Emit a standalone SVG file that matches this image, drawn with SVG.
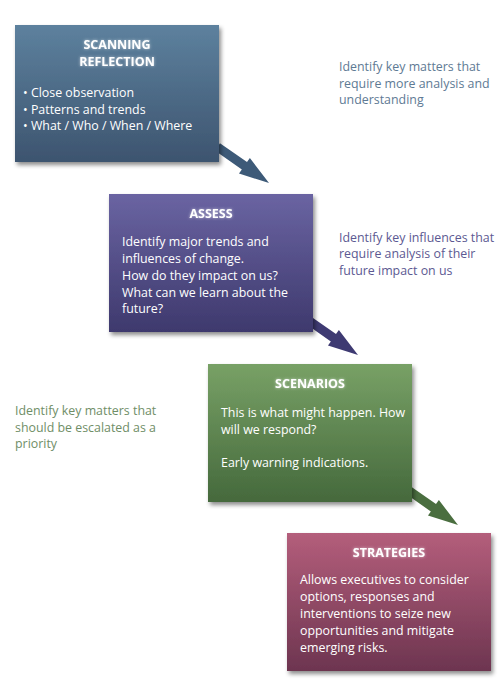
<svg xmlns="http://www.w3.org/2000/svg" width="500" height="696" viewBox="0 0 500 696">
<defs>
<linearGradient id="g1" x1="0" y1="0" x2="0" y2="1"><stop offset="0" stop-color="#5d819e"/><stop offset="1" stop-color="#3d546f"/></linearGradient>
<linearGradient id="g2" x1="0" y1="0" x2="0" y2="1"><stop offset="0" stop-color="#6a64a2"/><stop offset="1" stop-color="#3e396d"/></linearGradient>
<linearGradient id="g3" x1="0" y1="0" x2="0" y2="1"><stop offset="0" stop-color="#78a166"/><stop offset="1" stop-color="#45693c"/></linearGradient>
<linearGradient id="g4" x1="0" y1="0" x2="0" y2="1"><stop offset="0" stop-color="#b45e7b"/><stop offset="1" stop-color="#6d3550"/></linearGradient>
<filter id="sh" x="-10%" y="-10%" width="125%" height="125%"><feDropShadow dx="2" dy="3" stdDeviation="2" flood-color="#000" flood-opacity="0.45"/></filter>
<filter id="glow" x="-10%" y="-30%" width="120%" height="160%"><feGaussianBlur in="SourceAlpha" stdDeviation="1.5" result="b"/><feFlood flood-color="#fff" flood-opacity="0.6"/><feComposite in2="b" operator="in" result="g"/><feMerge><feMergeNode in="g"/><feMergeNode in="SourceGraphic"/></feMerge></filter>
</defs>
<style>
text{font-family:"Open Sans","Liberation Sans",sans-serif;font-size:12.4px}
.t{font-weight:bold;fill:#fff;text-anchor:middle;font-size:12.5px}
.b{fill:#fff}
.s1{fill:#5e7a94}.s2{fill:#5c5992}.s3{fill:#6f8e67}
</style>
<g id="connectors">
<path fill="#3d5a78" transform="translate(269,183) rotate(35)" d="M-63,-4.5 L-30,-4.5 L-30,-9.5 L0,0 L-30,9.5 L-30,4.5 L-63,4.5 Z"/>
<path fill="#3e3a72" transform="translate(358,355) rotate(35)" d="M-62,-4.5 L-30,-4.5 L-30,-9.5 L0,0 L-30,9.5 L-30,4.5 L-62,4.5 Z"/>
<path fill="#4a6e3f" transform="translate(458,525) rotate(35)" d="M-62,-4.5 L-30,-4.5 L-30,-9.5 L0,0 L-30,9.5 L-30,4.5 L-62,4.5 Z"/>
</g>
<g id="scanning">
<rect x="15" y="25" width="204" height="137" fill="url(#g1)" filter="url(#sh)"/>
<g filter="url(#glow)"><text class="t" x="117" y="49">SCANNING</text><text class="t" x="117" y="66">REFLECTION</text></g>
<text class="b" x="23" y="97">• Close observation</text>
<text class="b" x="23" y="114">• Patterns and trends</text>
<text class="b" x="23" y="130">• What / Who / When / Where</text>
</g>
<g id="assess">
<rect x="109" y="194" width="204" height="138" fill="url(#g2)" filter="url(#sh)"/>
<text class="t" x="211" y="218" filter="url(#glow)">ASSESS</text>
<text class="b" x="122" y="246">Identify major trends and</text>
<text class="b" x="122" y="263">influences of change.</text>
<text class="b" x="122" y="280">How do they impact on us?</text>
<text class="b" x="122" y="297">What can we learn about the</text>
<text class="b" x="122" y="313">future?</text>
</g>
<g id="scenarios">
<rect x="208" y="364" width="204" height="138" fill="url(#g3)" filter="url(#sh)"/>
<text class="t" x="310" y="388" filter="url(#glow)">SCENARIOS</text>
<text class="b" x="221" y="417">This is what might happen. How</text>
<text class="b" x="221" y="434">will we respond?</text>
<text class="b" x="221" y="467">Early warning indications.</text>
</g>
<g id="strategies">
<rect x="287" y="533" width="204" height="138" fill="url(#g4)" filter="url(#sh)"/>
<text class="t" x="389" y="557" filter="url(#glow)">STRATEGIES</text>
<text class="b" x="300" y="584">Allows executives to consider</text>
<text class="b" x="300" y="601">options, responses and</text>
<text class="b" x="300" y="618">interventions to seize new</text>
<text class="b" x="300" y="635">opportunities and mitigate</text>
<text class="b" x="300" y="652">emerging risks.</text>
</g>
<g id="note1">
<text class="s1" x="339" y="71">Identify key matters that</text>
<text class="s1" x="339" y="88">require more analysis and</text>
<text class="s1" x="339" y="104">understanding</text>
</g>
<g id="note2">
<text class="s2" x="339" y="242">Identify key influences that</text>
<text class="s2" x="339" y="258">require analysis of their</text>
<text class="s2" x="339" y="275">future impact on us</text>
</g>
<g id="note3">
<text class="s3" x="15" y="415">Identify key matters that</text>
<text class="s3" x="15" y="432">should be escalated as a</text>
<text class="s3" x="15" y="448">priority</text>
</g>
</svg>
